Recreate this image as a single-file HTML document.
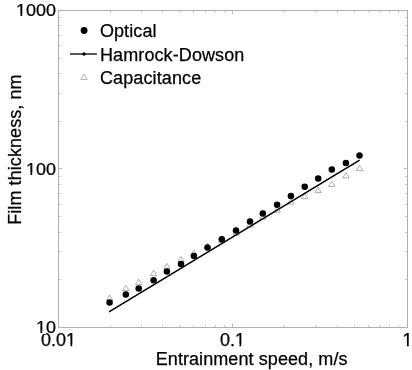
<!DOCTYPE html>
<html><head><meta charset="utf-8"><title>Film thickness</title>
<style>
html,body{margin:0;padding:0;background:#fff;}
svg{display:block;}
text{font-family:"Liberation Sans",Arial,Helvetica,sans-serif;font-size:18px;fill:#000;stroke:#000;stroke-width:0.25px;}
</style></head><body>
<svg width="412" height="370" viewBox="0 0 412 370">
<rect x="0" y="0" width="412" height="370" fill="#fff"/>

<rect x="58.5" y="10.5" width="349.0" height="317.0" fill="none" stroke="#b0b0b0" stroke-width="1"/>
<path d="M58.50 327.0v-3.4M58.50 11.0v3.4M110.50 327.0v-1.4M110.50 11.0v1.4M141.50 327.0v-1.4M141.50 11.0v1.4M162.50 327.0v-1.4M162.50 11.0v1.4M179.50 327.0v-1.4M179.50 11.0v1.4M193.50 327.0v-1.4M193.50 11.0v1.4M205.50 327.0v-1.4M205.50 11.0v1.4M215.50 327.0v-1.4M215.50 11.0v1.4M224.50 327.0v-1.4M224.50 11.0v1.4M232.50 327.0v-3.4M232.50 11.0v3.4M284.50 327.0v-1.4M284.50 11.0v1.4M315.50 327.0v-1.4M315.50 11.0v1.4M337.50 327.0v-1.4M337.50 11.0v1.4M354.50 327.0v-1.4M354.50 11.0v1.4M368.50 327.0v-1.4M368.50 11.0v1.4M379.50 327.0v-1.4M379.50 11.0v1.4M389.50 327.0v-1.4M389.50 11.0v1.4M398.50 327.0v-1.4M398.50 11.0v1.4M59.0 327.50h3.4M407.0 327.50h-3.4M59.0 279.50h1.4M407.0 279.50h-1.4M59.0 251.50h1.4M407.0 251.50h-1.4M59.0 232.50h1.4M407.0 232.50h-1.4M59.0 216.50h1.4M407.0 216.50h-1.4M59.0 204.50h1.4M407.0 204.50h-1.4M59.0 193.50h1.4M407.0 193.50h-1.4M59.0 184.50h1.4M407.0 184.50h-1.4M59.0 176.50h1.4M407.0 176.50h-1.4M59.0 168.50h3.4M407.0 168.50h-3.4M59.0 121.50h1.4M407.0 121.50h-1.4M59.0 93.50h1.4M407.0 93.50h-1.4M59.0 73.50h1.4M407.0 73.50h-1.4M59.0 58.50h1.4M407.0 58.50h-1.4M59.0 45.50h1.4M407.0 45.50h-1.4M59.0 35.50h1.4M407.0 35.50h-1.4M59.0 25.50h1.4M407.0 25.50h-1.4M59.0 17.50h1.4M407.0 17.50h-1.4" fill="none" stroke="#bcbcbc" stroke-width="1"/>
<path d="M109.6 294.9l3.25 5.4h-6.5z" fill="#fff" stroke="#8e8e8e" stroke-width="0.7"/>
<path d="M125.8 285.2l3.25 5.4h-6.5z" fill="#fff" stroke="#8e8e8e" stroke-width="0.7"/>
<path d="M138.7 279.2l3.25 5.4h-6.5z" fill="#fff" stroke="#8e8e8e" stroke-width="0.7"/>
<path d="M153.6 270.2l3.25 5.4h-6.5z" fill="#fff" stroke="#8e8e8e" stroke-width="0.7"/>
<path d="M166.9 263.3l3.25 5.4h-6.5z" fill="#fff" stroke="#8e8e8e" stroke-width="0.7"/>
<path d="M181.0 256.5l3.25 5.4h-6.5z" fill="#fff" stroke="#8e8e8e" stroke-width="0.7"/>
<path d="M193.9 250.2l3.25 5.4h-6.5z" fill="#fff" stroke="#8e8e8e" stroke-width="0.7"/>
<path d="M207.5 242.9l3.25 5.4h-6.5z" fill="#fff" stroke="#8e8e8e" stroke-width="0.7"/>
<path d="M221.8 237.2l3.25 5.4h-6.5z" fill="#fff" stroke="#8e8e8e" stroke-width="0.7"/>
<path d="M236.0 229.7l3.25 5.4h-6.5z" fill="#fff" stroke="#8e8e8e" stroke-width="0.7"/>
<path d="M250.0 221.6l3.25 5.4h-6.5z" fill="#fff" stroke="#8e8e8e" stroke-width="0.7"/>
<path d="M262.8 213.8l3.25 5.4h-6.5z" fill="#fff" stroke="#8e8e8e" stroke-width="0.7"/>
<path d="M277.1 206.7l3.25 5.4h-6.5z" fill="#fff" stroke="#8e8e8e" stroke-width="0.7"/>
<path d="M290.9 198.7l3.25 5.4h-6.5z" fill="#fff" stroke="#8e8e8e" stroke-width="0.7"/>
<path d="M304.7 193.3l3.25 5.4h-6.5z" fill="#fff" stroke="#8e8e8e" stroke-width="0.7"/>
<path d="M318.2 187.2l3.25 5.4h-6.5z" fill="#fff" stroke="#8e8e8e" stroke-width="0.7"/>
<path d="M331.8 181.0l3.25 5.4h-6.5z" fill="#fff" stroke="#8e8e8e" stroke-width="0.7"/>
<path d="M345.9 172.5l3.25 5.4h-6.5z" fill="#fff" stroke="#8e8e8e" stroke-width="0.7"/>
<path d="M359.5 165.3l3.25 5.4h-6.5z" fill="#fff" stroke="#8e8e8e" stroke-width="0.7"/>
<line x1="109.0" y1="311.95" x2="359.6" y2="160.1" stroke="#000" stroke-width="1.55"/>
<circle cx="109.6" cy="302.6" r="3.25" fill="#000"/>
<circle cx="125.8" cy="294.6" r="3.25" fill="#000"/>
<circle cx="138.7" cy="288.5" r="3.25" fill="#000"/>
<circle cx="153.6" cy="280.3" r="3.25" fill="#000"/>
<circle cx="166.9" cy="271.5" r="3.25" fill="#000"/>
<circle cx="181.0" cy="264.0" r="3.25" fill="#000"/>
<circle cx="193.9" cy="255.9" r="3.25" fill="#000"/>
<circle cx="207.5" cy="247.6" r="3.25" fill="#000"/>
<circle cx="221.8" cy="239.2" r="3.25" fill="#000"/>
<circle cx="236.0" cy="230.5" r="3.25" fill="#000"/>
<circle cx="250.0" cy="221.6" r="3.25" fill="#000"/>
<circle cx="262.8" cy="213.6" r="3.25" fill="#000"/>
<circle cx="277.1" cy="204.7" r="3.25" fill="#000"/>
<circle cx="290.9" cy="196.0" r="3.25" fill="#000"/>
<circle cx="304.7" cy="186.8" r="3.25" fill="#000"/>
<circle cx="318.2" cy="178.5" r="3.25" fill="#000"/>
<circle cx="331.8" cy="169.6" r="3.25" fill="#000"/>
<circle cx="345.9" cy="163.0" r="3.25" fill="#000"/>
<circle cx="359.5" cy="155.6" r="3.25" fill="#000"/>
<circle cx="84.1" cy="30.5" r="3.4" fill="#000"/>
<line x1="70" y1="54" x2="96.8" y2="54" stroke="#000" stroke-width="1.3"/><circle cx="84" cy="54" r="1.7" fill="#000"/>
<path d="M84 74l3.25 5.4h-6.5z" fill="#fff" stroke="#8e8e8e" stroke-width="0.7"/>
<text transform="translate(99.9,36.9)" font-size="18" letter-spacing="0.1">Optical</text>
<text transform="translate(100.0,60.6)" font-size="18" letter-spacing="0.1">Hamrock-Dowson</text>
<text transform="translate(99.9,84.4)" font-size="18" letter-spacing="0.12">Capacitance</text>
<text transform="translate(56.0,16.4) scale(1,0.93)" font-size="18" text-anchor="end">1000</text>
<text transform="translate(56.0,174.8) scale(1,0.93)" font-size="18" text-anchor="end">100</text>
<text transform="translate(56.0,333.0) scale(1,0.93)" font-size="18" text-anchor="end">10</text>
<text transform="translate(58.5,346)" font-size="18" text-anchor="middle">0.01</text>
<text transform="translate(232.5,346)" font-size="18" text-anchor="middle">0.1</text>
<text transform="translate(407.5,346)" font-size="18" text-anchor="middle">1</text>
<text transform="translate(155.7,364.6)" font-size="18" letter-spacing="0.08">Entrainment speed, m/s</text>
<text transform="translate(21,224.8) rotate(-90)" font-size="18" letter-spacing="0.08">Film thickness, nm</text>
<path d="M16.17 13.90H20.42V17.00H16.17zM22.22 13.90H25.87V17.00H22.22z" fill="#fff"/>
<path d="M26.17 172.90H30.42V176.00H26.17zM32.22 172.90H35.87V176.00H32.22z" fill="#fff"/>
<path d="M36.18 330.90H40.43V334.00H36.18zM42.23 330.90H45.88V334.00H42.23z" fill="#fff"/>
<path d="M66.18 343.90H70.43V347.00H66.18zM72.23 343.90H75.88V347.00H72.23z" fill="#fff"/>
<path d="M235.19 343.90H239.44V347.00H235.19zM241.24 343.90H244.89V347.00H241.24z" fill="#fff"/>
<path d="M402.69 343.90H406.94V347.00H402.69zM408.74 343.90H412.39V347.00H408.74z" fill="#fff"/>
</svg></body></html>
